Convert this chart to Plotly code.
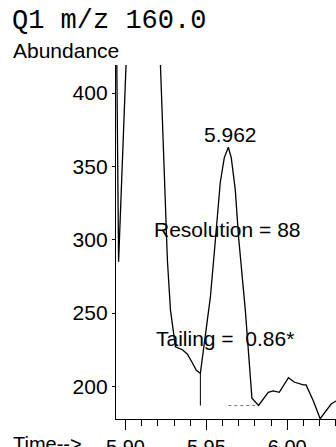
import plotly.graph_objects as go

# chromatogram trace (time in min, abundance)
time = [5.8941, 5.8957, 5.9003, 5.9031, 5.9100, 5.9198, 5.9216, 5.9241, 5.9259,
        5.9278, 5.9309, 5.9352, 5.9383, 5.9414, 5.9438, 5.9463, 5.9494, 5.9525,
        5.9556, 5.9586, 5.9611, 5.9636, 5.9654, 5.9667, 5.9679, 5.9699, 5.9741,
        5.9782, 5.9823, 5.9883, 5.9914, 5.9951, 6.0008, 6.0043, 6.0099, 6.0117,
        6.0162, 6.0204, 6.0272, 6.0302]
abundance = [480, 285, 419, 467, 520, 483, 419, 334, 286,
             252, 227, 225, 222, 216, 211, 209, 235, 261,
             300, 339, 356, 363, 356, 346, 334, 302, 252,
             192, 187, 196, 197, 196, 206, 203, 201, 201,
             190, 178, 188, 190]

# integration marks: drop line and baseline of the 5.962 peak
drop_t = [5.9463, 5.9463]
drop_y = [209, 187]
base_t = [5.9636, 5.9802]
base_y = [187, 187]

x_ticks = [5.90, 5.95, 6.00]
x_labels = ["5.90", "5.95", "6.00"]
y_ticks = [200, 250, 300, 350, 400]

sans = "Liberation Sans, Arial, sans-serif"

fig = go.Figure()
fig.add_trace(go.Scatter(x=time, y=abundance, mode="lines",
                         line=dict(color="black", width=1.3)))
fig.add_trace(go.Scatter(x=drop_t, y=drop_y, mode="lines",
                         line=dict(color="black", width=1)))
fig.add_trace(go.Scatter(x=base_t, y=base_y, mode="lines",
                         line=dict(color="#777777", width=1, dash="dot")))

fig.update_layout(
    width=336, height=447,
    margin=dict(l=116, r=0, t=65, b=28),
    paper_bgcolor="white", plot_bgcolor="white",
    showlegend=False,
    font=dict(family=sans, size=21, color="black"),
    xaxis=dict(range=[5.8941, 6.0302], tickvals=x_ticks, ticktext=x_labels,
               ticks="outside", ticklen=10, tickwidth=1.3, tickcolor="black",
               showline=True, linecolor="black", linewidth=1.3,
               showgrid=False, zeroline=False, tickfont=dict(size=20),
               automargin=False,
               minor=dict(dtick=0.01, tick0=5.90, ticks="outside", ticklen=6,
                          tickcolor="black", tickwidth=1, showgrid=False)),
    yaxis=dict(range=[177.8, 419.1], tickvals=y_ticks,
               ticks="outside", ticklen=3, tickcolor="black",
               showline=True, linecolor="black", linewidth=1.3,
               showgrid=False, zeroline=False, tickfont=dict(size=21),
               automargin=False),
)

# header texts
fig.add_annotation(x=-0.482, y=1.1245, xref="paper", yref="paper",
                   text="Q1 m/z 160.0", showarrow=False, xanchor="left", yanchor="middle",
                   font=dict(family="Liberation Mono, Courier New, monospace", size=27))
fig.add_annotation(x=-0.478, y=1.041, xref="paper", yref="paper",
                   text="Abundance", showarrow=False, xanchor="left", yanchor="middle",
                   font=dict(size=21))
fig.add_annotation(x=-0.478, y=-0.072, xref="paper", yref="paper",
                   text="Time-->", showarrow=False, xanchor="left", yanchor="middle",
                   font=dict(size=20))

# peak annotations
fig.add_annotation(x=5.9648, y=372, text="5.962", showarrow=False,
                   xanchor="center", yanchor="middle")
fig.add_annotation(x=5.963, y=306.8, text="Resolution = 88", showarrow=False,
                   xanchor="center", yanchor="middle")
fig.add_annotation(x=5.9175, y=232.8, text="Tailing =  0.86*", showarrow=False,
                   xanchor="left", yanchor="middle")

# the page's default body margin would shift the figure by 8px
fig.write_html("out.html", config={"displayModeBar": False},
               post_script="document.body.style.margin='0';")
